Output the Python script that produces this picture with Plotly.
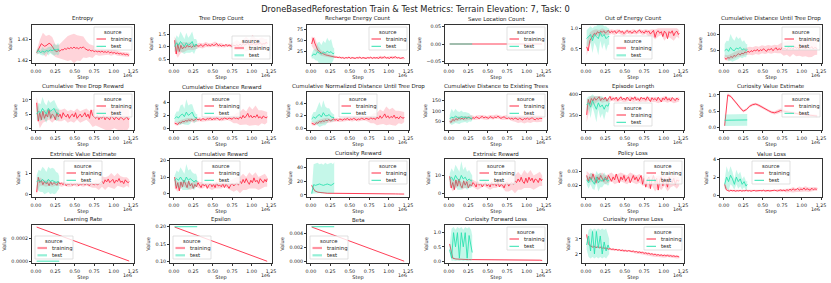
import plotly.graph_objects as go

# ---------------- data ----------------
TRAIN_STEPS = [10000, 50000, 90000, 130000, 170000, 210000, 250000, 290000, 330000, 370000,
               410000, 450000, 490000, 530000, 570000, 610000, 650000, 690000, 730000, 770000,
               810000, 850000, 890000, 930000, 970000, 1010000, 1050000, 1090000, 1130000,
               1170000, 1200000]
TRAIN_STEPS_FINE = [10000, 30000, 50000, 70000, 90000, 110000, 130000, 150000, 170000, 190000,
                    210000, 230000, 250000, 270000, 290000, 310000, 330000, 350000, 370000, 390000,
                    410000, 430000, 450000, 470000, 490000, 510000, 530000, 550000, 570000, 590000,
                    610000, 630000, 650000, 670000, 690000, 710000, 730000, 750000, 770000, 790000,
                    810000, 830000, 850000, 870000, 890000, 910000, 930000, 950000, 970000, 990000,
                    1010000, 1030000, 1050000, 1070000, 1090000, 1110000, 1130000, 1150000, 1170000,
                    1190000, 1200000]
TEST_STEPS = [10000, 35000, 60000, 85000, 110000, 135000, 160000, 185000, 210000, 235000,
              260000, 285000, 300000]
TRAIN_ENDS = [10000, 1200000]
TEST_ENDS = [10000, 300000]

X_TICKS = [0, 250000, 500000, 750000, 1000000, 1250000]
X_TICK_TEXT = ["0.00", "0.25", "0.50", "0.75", "1.00", "1.25"]

# ---- Entropy
entropy_line = [1.4235, 1.4250, 1.4268, 1.4278, 1.4272, 1.4266, 1.4268, 1.4275, 1.4280, 1.4276,
                1.4265, 1.4255, 1.4243, 1.4240, 1.4246, 1.4242, 1.4250, 1.4248, 1.4255, 1.4251,
                1.4258, 1.4254, 1.4260, 1.4255, 1.4262, 1.4256, 1.4259, 1.4253, 1.4261, 1.4257,
                1.4263, 1.4255, 1.4250, 1.4246, 1.4249, 1.4243, 1.4246, 1.4240, 1.4244, 1.4239,
                1.4242, 1.4238, 1.4243, 1.4237, 1.4240, 1.4236, 1.4241, 1.4234, 1.4238, 1.4233,
                1.4236, 1.4231, 1.4234, 1.4229, 1.4232, 1.4227, 1.4230, 1.4225, 1.4228, 1.4223, 1.4225]
entropy_train = [1.4235, 1.4265, 1.4280, 1.4265, 1.4280, 1.4270, 1.4245, 1.4240, 1.4245, 1.4250, 1.4255, 1.4260, 1.4255, 1.4258, 1.4255, 1.4262, 1.4250, 1.4245, 1.4240, 1.4245, 1.4240, 1.4242, 1.4238, 1.4240, 1.4235, 1.4238, 1.4232, 1.4230, 1.4228, 1.4226, 1.4225]
entropy_train_sd = [0.0010, 0.0030, 0.0050, 0.0050, 0.0040, 0.0040, 0.0030, 0.0030, 0.0040, 0.0050, 0.0060, 0.0060, 0.0070, 0.0060, 0.0060, 0.0050, 0.0040, 0.0030, 0.0030, 0.0020, 0.0020, 0.0020, 0.0015, 0.0015, 0.0015, 0.0012, 0.0012, 0.0010, 0.0010, 0.0010, 0.0010]
entropy_test = [1.4238, 1.4245, 1.4235, 1.4242, 1.4238, 1.4245, 1.4242, 1.4248, 1.4245, 1.4250, 1.4248, 1.4252, 1.4250]
entropy_test_sd = [0.0010, 0.0015, 0.0010, 0.0020, 0.0015, 0.0010, 0.0020, 0.0015, 0.0020, 0.0030, 0.0020, 0.0030, 0.0020]

# ---- Tree Drop Count
tree_line = [1.25, 0.70, 1.10, 0.80, 1.05, 0.90, 1.00, 0.95, 1.05, 0.98,
             1.02, 0.96, 1.04, 0.99, 1.06, 1.01, 1.03, 1.08, 1.00, 1.05,
             1.10, 1.03, 1.07, 1.02, 1.09, 1.04, 1.06, 1.12, 1.03, 1.07,
             1.01, 1.05, 1.03, 1.08, 1.02, 1.06, 1.04, 1.00, 1.05, 1.03,
             1.07, 1.02, 1.10, 1.04, 1.12, 1.06, 1.09, 1.15, 1.05, 1.10,
             1.08, 1.14, 1.06, 1.11, 1.09, 1.16, 1.08, 1.12, 1.10, 1.18, 1.12]
tree_train = [1.10, 0.85, 0.95, 0.98, 1.00, 1.02, 0.98, 1.00, 1.05, 1.02, 1.08, 1.05, 1.06, 1.10, 1.04, 1.06, 1.02, 1.05, 1.03, 1.04, 1.06, 1.02, 1.08, 1.10, 1.06, 1.12, 1.08, 1.10, 1.12, 1.10, 1.15]
tree_train_sd = [0.30, 0.30, 0.20, 0.20, 0.15, 0.15, 0.12, 0.10, 0.10, 0.10, 0.10, 0.08, 0.08, 0.10, 0.08, 0.08, 0.06, 0.06, 0.06, 0.15, 0.20, 0.15, 0.20, 0.30, 0.20, 0.35, 0.25, 0.20, 0.25, 0.20, 0.15]
tree_test = [1.00, 1.15, 1.05, 1.20, 1.10, 1.00, 1.15, 1.05, 1.10, 1.20, 1.00, 1.10, 1.05]
tree_test_sd = [0.20, 0.30, 0.30, 0.40, 0.35, 0.30, 0.40, 0.30, 0.35, 0.40, 0.30, 0.20, 0.15]

# ---- Recharge Energy Count
recharge_line = [42, 55, 44, 35, 28, 26, 22, 21, 19, 18,
                 17, 16, 15, 15, 14, 13, 13, 12, 13, 11,
                 12, 10, 12, 11, 13, 10, 12, 11, 10, 12,
                 11, 13, 10, 12, 11, 10, 12, 11, 13, 10,
                 12, 11, 12, 10, 13, 11, 12, 14, 11, 12,
                 10, 13, 11, 12, 14, 11, 12, 10, 11, 12, 10]
recharge_train = [48, 42, 30, 22, 20, 17, 15, 14, 13, 12, 12, 11, 12, 11, 11, 12, 11, 11, 12, 11, 12, 11, 13, 12, 11, 12, 13, 11, 12, 11, 10]
recharge_train_sd = [10, 15, 8, 6, 5, 4, 3, 3, 2, 2, 2, 2, 2, 2, 2, 2, 2, 2, 2, 2, 2, 2, 3, 3, 2, 3, 3, 2, 2, 2, 2]
recharge_test = [15, 20, 18, 25, 22, 20, 24, 22, 26, 23, 25, 20, 22]
recharge_test_sd = [5, 10, 12, 20, 25, 20, 25, 22, 30, 25, 28, 15, 10]

# ---- Save Location Count
save_train = [0.0, 0.0]
save_train_sd = [0.0, 0.0]
save_test = [0.0, 0.0]
save_test_sd = [0.0, 0.0]

# ---- Out of Energy Count
ooe_line = [0.55, 0.45, 0.70, 0.78, 0.82, 0.88, 0.85, 0.92, 0.88, 0.93,
            0.90, 0.94, 0.88, 0.92, 0.95, 0.89, 0.93, 0.90, 0.94, 0.88,
            0.92, 0.95, 0.90, 0.93, 0.87, 0.92, 0.95, 0.90, 0.93, 0.88,
            0.92, 0.94, 0.89, 0.93, 0.96, 0.90, 0.92, 0.88, 0.94, 0.91,
            0.93, 0.86, 0.92, 0.95, 0.78, 0.91, 0.94, 0.88, 0.92, 0.80,
            0.93, 0.89, 0.75, 0.92, 0.88, 0.94, 0.82, 0.90, 0.93, 0.85, 0.88]
ooe_train = [0.50, 0.75, 0.85, 0.90, 0.88, 0.92, 0.90, 0.90, 0.92, 0.90, 0.93, 0.90, 0.88, 0.92, 0.90, 0.92, 0.90, 0.93, 0.90, 0.92, 0.88, 0.90, 0.85, 0.90, 0.92, 0.85, 0.90, 0.88, 0.85, 0.90, 0.85]
ooe_train_sd = [0.15, 0.15, 0.10, 0.08, 0.08, 0.08, 0.06, 0.06, 0.06, 0.06, 0.05, 0.05, 0.06, 0.05, 0.05, 0.06, 0.05, 0.05, 0.06, 0.06, 0.08, 0.08, 0.12, 0.10, 0.08, 0.15, 0.10, 0.12, 0.15, 0.10, 0.10]
ooe_test = [0.75, 0.80, 0.85, 0.70, 0.85, 0.80, 0.75, 0.90, 0.80, 0.85, 0.75, 0.80, 0.80]
ooe_test_sd = [0.20, 0.20, 0.20, 0.30, 0.20, 0.25, 0.40, 0.20, 0.30, 0.20, 0.30, 0.20, 0.20]

# ---- Cumulative Distance Until Tree Drop
cdutd_line = [28, 24, 30, 27, 33, 29, 36, 33, 38, 41,
              37, 43, 40, 46, 44, 48, 45, 50, 47, 52,
              49, 54, 48, 53, 50, 56, 51, 48, 55, 52,
              57, 50, 54, 59, 52, 56, 53, 60, 55, 58,
              52, 61, 56, 59, 54, 63, 57, 60, 53, 65,
              58, 61, 55, 64, 59, 57, 62, 55, 60, 58, 56]
cdutd_train = [30, 28, 32, 36, 40, 42, 45, 47, 50, 48, 52, 50, 54, 52, 55, 53, 56, 54, 57, 55, 58, 56, 60, 58, 55, 62, 58, 60, 56, 62, 58]
cdutd_train_sd = [8, 8, 8, 10, 10, 10, 10, 10, 12, 12, 12, 12, 12, 12, 12, 12, 12, 12, 15, 20, 20, 25, 20, 25, 20, 30, 25, 30, 25, 25, 20]
cdutd_test = [50, 55, 48, 60, 52, 50, 58, 55, 60, 52, 56, 50, 54]
cdutd_test_sd = [20, 25, 30, 40, 35, 30, 35, 30, 30, 25, 25, 20, 15]

# ---- Cumulative Tree Drop Reward
ctdr_line = [9.0, 2.5, 5.5, 3.0, 6.0, 3.5, 5.0, 4.0, 6.5, 3.5,
             5.0, 4.5, 3.0, 5.5, 4.0, 5.0, 3.5, 5.5, 4.5, 4.0,
             5.0, 3.5, 4.5, 5.0, 4.0, 5.5, 3.5, 4.5, 5.0, 4.0,
             4.5, 5.5, 4.0, 5.0, 3.5, 6.5, 4.5, 4.0, 3.5, 4.5,
             3.0, 4.0, 3.5, 4.5, 3.0, 4.0, 3.5, 3.0, 4.5, 3.5,
             3.0, 4.0, 3.5, 3.0, 4.0, 3.5, 3.0, 3.5, 4.0, 3.0, 3.5]
ctdr_train = [8.0, 3.0, 4.0, 4.5, 5.0, 4.0, 5.0, 4.5, 4.5, 5.0, 4.0, 4.5, 4.0, 5.0, 4.0, 4.5, 5.0, 4.0, 3.5, 4.0, 3.5, 4.0, 3.5, 3.0, 3.5, 4.0, 3.5, 3.0, 3.5, 3.0, 3.5]
ctdr_train_sd = [3, 3, 2, 2, 2, 2, 2, 2, 2, 2, 2, 2, 2, 2, 2, 2, 2, 2, 3, 3, 3, 4, 4, 4, 4, 4, 4, 4, 4, 4, 3]
ctdr_test = [5.0, 6.0, 5.5, 7.0, 6.0, 5.0, 7.0, 6.0, 6.5, 7.0, 5.5, 5.0, 5.0]
ctdr_test_sd = [2, 3, 3, 4, 3, 3, 3, 3, 3, 3, 3, 2, 2]

# ---- Cumulative Distance Reward
cdr_line = [0.8, 0.7, 0.6, 0.9, 0.8, 1.1, 1.0, 1.2, 1.1, 1.3,
            1.2, 1.4, 1.2, 1.3, 1.5, 1.3, 1.4, 1.2, 1.5, 1.4,
            1.3, 1.5, 1.4, 1.6, 1.3, 1.5, 1.4, 1.6, 1.5, 1.3,
            1.5, 1.4, 1.6, 1.5, 1.4, 1.6, 1.5, 1.4, 1.7, 1.5,
            1.6, 1.4, 1.8, 1.5, 2.0, 1.6, 1.9, 2.3, 1.7, 2.0,
            1.6, 1.9, 1.7, 2.1, 1.6, 1.8, 1.5, 1.9, 1.7, 1.6, 1.8]
cdr_train = [0.8, 0.7, 1.0, 1.1, 1.2, 1.3, 1.2, 1.3, 1.4, 1.3, 1.4, 1.5, 1.4, 1.5, 1.5, 1.4, 1.5, 1.6, 1.5, 1.4, 1.6, 1.5, 1.8, 1.6, 1.9, 1.7, 2.0, 1.6, 1.8, 1.6, 1.7]
cdr_train_sd = [0.3, 0.3, 0.3, 0.4, 0.4, 0.3, 0.3, 0.3, 0.3, 0.3, 0.3, 0.3, 0.3, 0.3, 0.3, 0.3, 0.3, 0.3, 0.4, 0.6, 0.8, 1.0, 1.2, 1.0, 1.5, 1.2, 1.5, 1.2, 1.0, 1.0, 0.8]
cdr_test = [1.5, 1.8, 1.6, 2.0, 2.2, 1.8, 2.5, 2.0, 2.2, 2.5, 1.8, 1.6, 1.7]
cdr_test_sd = [0.5, 0.8, 1.0, 1.5, 1.5, 1.2, 2.0, 1.5, 1.5, 1.2, 1.0, 0.6, 0.5]

# ---- Cumulative Normalized Distance Until Tree Drop
cnd_line = [0.08, 0.07, 0.06, 0.09, 0.08, 0.11, 0.10, 0.12, 0.11, 0.13,
            0.12, 0.14, 0.12, 0.13, 0.15, 0.13, 0.14, 0.12, 0.15, 0.14,
            0.13, 0.15, 0.14, 0.16, 0.13, 0.15, 0.14, 0.16, 0.15, 0.13,
            0.15, 0.14, 0.16, 0.15, 0.14, 0.16, 0.15, 0.14, 0.17, 0.15,
            0.16, 0.14, 0.18, 0.15, 0.20, 0.16, 0.19, 0.23, 0.17, 0.20,
            0.16, 0.19, 0.17, 0.21, 0.16, 0.18, 0.15, 0.19, 0.17, 0.16, 0.18]
cnd_train = [0.08, 0.07, 0.10, 0.11, 0.12, 0.13, 0.12, 0.13, 0.14, 0.13, 0.14, 0.14, 0.15, 0.14, 0.15, 0.14, 0.15, 0.16, 0.15, 0.14, 0.16, 0.15, 0.18, 0.17, 0.20, 0.18, 0.19, 0.16, 0.18, 0.17, 0.18]
cnd_train_sd = [0.03, 0.03, 0.03, 0.04, 0.04, 0.04, 0.03, 0.03, 0.03, 0.03, 0.03, 0.03, 0.03, 0.03, 0.03, 0.03, 0.03, 0.03, 0.04, 0.06, 0.08, 0.10, 0.12, 0.10, 0.15, 0.12, 0.14, 0.12, 0.10, 0.10, 0.08]
cnd_test = [0.15, 0.18, 0.16, 0.20, 0.22, 0.18, 0.25, 0.20, 0.20, 0.22, 0.18, 0.17, 0.17]
cnd_test_sd = [0.05, 0.08, 0.10, 0.15, 0.20, 0.15, 0.20, 0.15, 0.12, 0.10, 0.08, 0.06, 0.05]

# ---- Cumulative Distance to Existing Trees
cdet_line = [48, 44, 58, 52, 62, 56, 66, 60, 64, 58,
             68, 62, 70, 64, 60, 67, 63, 71, 66, 62,
             69, 73, 65, 70, 67, 63, 72, 68, 64, 70,
             66, 74, 69, 63, 68, 71, 65, 62, 67, 60,
             64, 58, 66, 61, 57, 64, 60, 55, 63, 59,
             65, 58, 62, 67, 60, 56, 63, 59, 64, 61, 62]
cdet_train = [45, 55, 60, 62, 65, 62, 65, 68, 65, 68, 70, 68, 65, 70, 68, 72, 70, 65, 68, 70, 65, 62, 60, 62, 58, 62, 60, 64, 62, 60, 62]
cdet_train_sd = [10, 12, 12, 10, 10, 10, 10, 10, 10, 10, 10, 10, 10, 10, 10, 10, 10, 10, 10, 12, 15, 15, 20, 18, 20, 18, 20, 18, 18, 15, 15]
cdet_test = [60, 70, 65, 75, 68, 65, 72, 68, 70, 65, 68, 62, 65]
cdet_test_sd = [20, 40, 30, 35, 30, 30, 30, 25, 25, 25, 20, 15, 12]

# ---- Episode Length
ep_line = [352, 388, 376, 390, 384, 392, 386, 389, 394, 385,
           391, 387, 393, 384, 390, 395, 386, 391, 388, 393,
           385, 390, 394, 387, 391, 386, 393, 389, 384, 392,
           388, 394, 386, 390, 385, 393, 389, 391, 386, 394,
           388, 383, 392, 387, 390, 385, 393, 388, 382, 391,
           387, 394, 386, 390, 384, 392, 388, 385, 391, 387, 389]
ep_train = [355, 380, 385, 388, 390, 386, 388, 385, 390, 388, 387, 389, 386, 388, 390, 387, 389, 386, 388, 387, 389, 386, 388, 385, 387, 389, 386, 388, 385, 387, 388]
ep_train_sd = [20, 15, 10, 8, 6, 6, 5, 5, 5, 5, 5, 5, 5, 5, 5, 5, 5, 5, 5, 5, 5, 5, 6, 6, 5, 6, 6, 5, 6, 5, 5]
ep_test = [375, 380, 370, 385, 375, 365, 380, 370, 375, 365, 375, 372, 380]
ep_test_sd = [15, 15, 25, 15, 20, 30, 15, 25, 20, 25, 15, 15, 12]

# ---- Curiosity Value Estimate
cve_train = [0.05, 1.00, 0.95, 0.85, 0.72, 0.60, 0.50, 0.55, 0.65, 0.70, 0.72, 0.68, 0.62, 0.58, 0.52, 0.47, 0.45, 0.48, 0.52, 0.50, 0.48, 0.45, 0.43, 0.42, 0.41, 0.40, 0.39, 0.38, 0.37, 0.36, 0.35]
cve_train_sd = [0.02, 0.05, 0.04, 0.04, 0.04, 0.04, 0.04, 0.04, 0.04, 0.04, 0.04, 0.04, 0.04, 0.04, 0.04, 0.04, 0.05, 0.06, 0.06, 0.05, 0.05, 0.04, 0.04, 0.04, 0.04, 0.04, 0.04, 0.04, 0.04, 0.04, 0.04]
cve_test = [0.22, 0.23]
cve_test_sd = [0.18, 0.18]

# ---- Extrinsic Value Estimate
evs_line = [0.10, 0.80, 0.55, 0.65, 0.45, 0.60, 0.50, 0.55, 0.40, 0.60,
            0.45, 0.55, 0.50, 0.42, 0.58, 0.48, 0.52, 0.45, 0.55, 0.40,
            0.50, 0.46, 0.54, 0.42, 0.50, 0.47, 0.53, 0.40, 0.48, 0.45,
            0.52, 0.43, 0.50, 0.46, 0.41, 0.52, 0.47, 0.44, 0.50, 0.45,
            0.48, 0.55, 0.62, 0.50, 0.68, 0.58, 0.72, 0.55, 0.64, 0.70,
            0.52, 0.66, 0.60, 0.74, 0.56, 0.62, 0.50, 0.68, 0.58, 0.55, 0.60]
evs_train = [0.20, 0.60, 0.55, 0.50, 0.55, 0.45, 0.50, 0.50, 0.45, 0.50, 0.45, 0.45, 0.50, 0.45, 0.50, 0.45, 0.50, 0.45, 0.45, 0.50, 0.45, 0.60, 0.50, 0.60, 0.65, 0.55, 0.70, 0.60, 0.55, 0.60, 0.50]
evs_train_sd = [0.20, 0.20, 0.15, 0.15, 0.15, 0.10, 0.10, 0.10, 0.10, 0.10, 0.10, 0.10, 0.10, 0.10, 0.10, 0.10, 0.10, 0.10, 0.15, 0.20, 0.25, 0.25, 0.30, 0.25, 0.35, 0.30, 0.30, 0.25, 0.25, 0.20, 0.20]
evs_test = [0.60, 0.65, 0.60, 0.70, 0.60, 0.55, 0.70, 0.60, 0.65, 0.60, 0.55, 0.60, 0.55]
evs_test_sd = [0.30, 0.50, 0.50, 0.60, 0.60, 0.50, 0.60, 0.60, 0.60, 0.60, 0.50, 0.40, 0.30]

# ---- Cumulative Reward
cr_line = [10.0, 3.0, 6.5, 1.5, 7.0, 4.0, 8.0, 5.0, 3.5, 7.5,
           4.5, 6.0, 3.0, 5.5, 4.0, 6.5, 5.0, 3.5, 6.0, 4.5,
           5.5, 3.0, 5.0, 6.0, 4.0, 5.5, 3.5, 6.5, 4.5, 5.0,
           4.0, 6.0, 3.5, 5.5, 4.5, 3.0, 5.0, 6.0, 4.5, 5.5,
           6.5, 5.0, 7.5, 6.0, 8.5, 6.5, 9.0, 7.0, 5.5, 8.0,
           6.5, 9.5, 7.0, 8.0, 6.0, 9.0, 7.5, 6.5, 8.5, 7.0, 9.0]
cr_train = [6, 4, 5, 6, 5, 4, 5, 6, 5, 5, 6, 5, 4, 5, 5, 5, 6, 5, 5, 5, 6, 5, 7, 6, 8, 7, 8, 6, 7, 8, 7]
cr_train_sd = [3, 3, 2, 2, 2, 2, 2, 2, 2, 2, 2, 2, 2, 2, 2, 2, 2, 2, 3, 4, 4, 5, 5, 4, 5, 4, 5, 4, 4, 4, 3]
cr_test = [8, 9, 8, 10, 8, 7, 10, 8, 9, 8, 7, 8, 7]
cr_test_sd = [3, 5, 5, 6, 6, 5, 8, 6, 6, 5, 5, 4, 3]

# ---- Curiosity Reward
cur_train = [14, 6, 4, 3, 3, 2.5, 2.5, 2.5, 2.5, 2.5, 2.5, 2.5, 2.5, 2.2, 2.2, 2.2, 2.2, 2.0, 2.0, 2.0, 2.0, 1.8, 1.8, 1.8, 1.6, 1.6, 1.5, 1.5, 1.4, 1.4, 1.3]
cur_train_sd = [2.0, 1.0, 0.5, 0.5, 0.5, 0.4, 0.4, 0.4, 0.4, 0.4, 0.4, 0.4, 0.4, 0.3, 0.3, 0.3, 0.3, 0.3, 0.3, 0.3, 0.3, 0.3, 0.3, 0.3, 0.3, 0.3, 0.3, 0.3, 0.3, 0.3, 0.3]
cur_test = [2, 15, 14, 15, 16, 15, 14, 15, 16, 15, 14, 16, 17]
cur_test_lo = [1, 2, 2, 2, 3, 2, 2, 3, 2, 2, 3, 2, 3]
cur_test_hi = [3, 45, 46, 47, 45, 46, 44, 47, 45, 46, 47, 45, 48]

# ---- Extrinsic Reward
er_line = [9.5, 3.0, 6.0, 2.0, 7.5, 4.0, 8.0, 4.5, 3.0, 7.0,
           4.5, 6.5, 3.0, 5.0, 4.0, 6.0, 5.0, 3.5, 6.5, 4.5,
           5.5, 3.5, 5.0, 6.0, 4.0, 5.0, 3.5, 6.0, 4.5, 5.5,
           4.0, 6.5, 3.5, 5.0, 4.5, 3.0, 5.5, 6.0, 4.0, 5.5,
           6.0, 5.0, 7.0, 6.0, 8.0, 6.5, 9.0, 6.5, 5.5, 8.5,
           6.0, 9.0, 7.0, 8.5, 6.0, 8.0, 7.5, 6.0, 8.5, 7.0, 8.0]
er_train = [7, 4, 5, 6, 4, 5, 5, 6, 5, 4, 5, 6, 5, 4, 5, 5, 6, 5, 4, 5, 6, 5, 7, 6, 8, 7, 8, 6, 7, 8, 7]
er_train_sd = [3, 3, 2, 2, 2, 2, 2, 2, 2, 2, 2, 2, 2, 2, 2, 2, 2, 2, 3, 4, 4, 5, 5, 4, 5, 4, 5, 4, 4, 4, 3]
er_test = [8, 9, 7, 10, 8, 7, 10, 8, 9, 7, 8, 7, 7]
er_test_sd = [3, 5, 5, 6, 6, 5, 8, 5, 6, 5, 5, 4, 3]

# ---- Policy Loss
pl_line = [0.027, 0.023, 0.026, 0.024, 0.028, 0.025, 0.022, 0.026, 0.024, 0.027,
           0.025, 0.023, 0.026, 0.024, 0.027, 0.025, 0.023, 0.026, 0.024, 0.028,
           0.025, 0.022, 0.026, 0.024, 0.027, 0.023, 0.025, 0.026, 0.022, 0.025,
           0.027, 0.024, 0.026, 0.023, 0.025, 0.027, 0.021, 0.025, 0.019, 0.024,
           0.026, 0.018, 0.024, 0.027, 0.022, 0.025, 0.017, 0.024, 0.026, 0.020,
           0.025, 0.023, 0.019, 0.026, 0.024, 0.022, 0.025, 0.021, 0.024, 0.023, 0.024]
pl_train = [0.027, 0.025, 0.026, 0.024, 0.025, 0.026, 0.024, 0.025, 0.026, 0.024, 0.025, 0.026, 0.025, 0.024, 0.026, 0.025, 0.024, 0.025, 0.023, 0.024, 0.022, 0.024, 0.021, 0.023, 0.022, 0.024, 0.021, 0.023, 0.024, 0.022, 0.023]
pl_train_sd = [0.003, 0.003, 0.003, 0.003, 0.003, 0.003, 0.003, 0.003, 0.003, 0.003, 0.003, 0.003, 0.003, 0.003, 0.003, 0.003, 0.003, 0.003, 0.003, 0.004, 0.004, 0.004, 0.005, 0.004, 0.005, 0.004, 0.005, 0.004, 0.004, 0.004, 0.003]
pl_test = [0.024, 0.022, 0.025, 0.023, 0.021, 0.026, 0.022, 0.024, 0.023, 0.025, 0.024, 0.023, 0.024]
pl_test_sd = [0.003, 0.004, 0.004, 0.005, 0.004, 0.004, 0.006, 0.005, 0.004, 0.004, 0.003, 0.003, 0.003]

# ---- Value Loss
vl_line = [1.20, 0.60, 0.50, 0.45, 0.55, 0.48, 0.52, 0.44, 0.50, 0.47,
           0.53, 0.45, 0.50, 0.48, 0.55, 0.46, 0.51, 0.44, 0.50, 0.53,
           0.47, 0.50, 0.45, 0.52, 0.48, 0.55, 0.46, 0.50, 0.53, 0.47,
           0.51, 0.48, 0.55, 0.50, 0.46, 0.52, 0.58, 0.50, 0.55, 0.48,
           0.60, 0.53, 0.65, 0.55, 0.70, 0.58, 0.62, 0.75, 0.55, 0.68,
           0.60, 0.80, 0.58, 0.72, 0.62, 0.55, 0.78, 0.60, 0.70, 0.65, 0.72]
vl_train = [1.10, 0.55, 0.50, 0.50, 0.45, 0.50, 0.45, 0.50, 0.50, 0.45, 0.50, 0.45, 0.50, 0.50, 0.45, 0.50, 0.50, 0.55, 0.50, 0.55, 0.50, 0.55, 0.60, 0.55, 0.65, 0.60, 0.70, 0.60, 0.65, 0.70, 0.65]
vl_train_sd = [0.30, 0.10, 0.10, 0.10, 0.10, 0.10, 0.10, 0.10, 0.10, 0.10, 0.10, 0.10, 0.10, 0.10, 0.10, 0.10, 0.10, 0.10, 0.15, 0.15, 0.20, 0.20, 0.30, 0.20, 0.30, 0.25, 0.30, 0.25, 0.25, 0.20, 0.20]
vl_test = [1.2, 2.0, 1.5, 2.2, 1.8, 1.2, 2.0, 1.5, 1.8, 1.2, 1.5, 1.0, 1.2]
vl_test_sd = [0.5, 1.2, 1.0, 1.0, 0.8, 0.6, 0.8, 0.8, 0.8, 0.6, 0.6, 0.5, 0.4]

# ---- schedules
lr_train = [0.000298, 0.000001]
lr_test = [0.0, 0.0]
eps_train = [0.199, 0.100]
eps_test = [0.200, 0.200]
beta_train = [0.00496, 0.00001]
beta_test = [0.005, 0.005]
zero_sd = [0.0, 0.0]

# ---- Curiosity Forward Loss
cfl_train = [0.60, 0.10, 0.07, 0.06, 0.06, 0.05, 0.05, 0.05, 0.05, 0.05, 0.05, 0.05, 0.05, 0.05, 0.05, 0.05, 0.05, 0.05, 0.04, 0.04, 0.04, 0.04, 0.04, 0.04, 0.04, 0.03, 0.03, 0.03, 0.03, 0.03, 0.02]
cfl_train_sd = [0.05, 0.03, 0.02, 0.01, 0.01, 0.01, 0.01, 0.01, 0.01, 0.01, 0.01, 0.01, 0.01, 0.01, 0.01, 0.01, 0.01, 0.01, 0.01, 0.01, 0.01, 0.01, 0.01, 0.01, 0.01, 0.01, 0.01, 0.01, 0.01, 0.01, 0.01]
cfl_test = [0.40, 0.10, 1.00, 0.50, 1.00, 0.10, 1.00, 0.50, 1.00, 0.10, 0.90, 0.50, 0.30]
cfl_test_lo = [0.30, 0.00, 0.02, 0.00, 0.02, 0.00, 0.02, 0.00, 0.02, 0.00, 0.02, 0.00, 0.05]
cfl_test_hi = [0.55, 1.15, 1.20, 1.10, 1.20, 1.15, 1.20, 1.10, 1.20, 1.15, 1.20, 1.10, 0.90]

# ---- Curiosity Inverse Loss
cil_line = [3.30, 2.70, 2.55, 2.50, 2.45, 2.50, 2.42, 2.47, 2.40, 2.44,
            2.38, 2.42, 2.35, 2.38, 2.32, 2.36, 2.30, 2.33, 2.28, 2.31,
            2.25, 2.29, 2.22, 2.26, 2.20, 2.24, 2.18, 2.23, 2.19, 2.16,
            2.20, 2.13, 2.17, 2.10, 2.14, 2.08, 2.11, 2.04, 2.08, 2.01,
            2.05, 1.98, 2.02, 1.95, 1.99, 1.92, 1.96, 1.90, 1.94, 1.88,
            1.93, 1.87, 1.91, 1.85, 1.89, 1.84, 1.88, 1.83, 1.86, 1.82, 1.80]
cil_train = [3.20, 2.60, 2.50, 2.50, 2.45, 2.45, 2.40, 2.35, 2.30, 2.30, 2.25, 2.25, 2.20, 2.20, 2.20, 2.15, 2.10, 2.10, 2.05, 2.00, 2.00, 1.95, 1.90, 1.90, 1.90, 1.85, 1.90, 1.85, 1.85, 1.80, 1.80]
cil_train_sd = [0.10, 0.08, 0.06, 0.06, 0.06, 0.06, 0.06, 0.06, 0.06, 0.06, 0.06, 0.06, 0.06, 0.06, 0.06, 0.06, 0.08, 0.10, 0.10, 0.10, 0.10, 0.10, 0.10, 0.10, 0.10, 0.10, 0.10, 0.10, 0.10, 0.10, 0.08]
cil_test = [2.6, 3.2, 2.2, 3.5, 2.0, 3.5, 2.4, 3.2, 2.0, 2.8, 2.2, 2.6, 2.4]
cil_test_lo = [2.3, 1.8, 1.7, 1.8, 1.7, 1.8, 1.7, 1.8, 1.7, 1.8, 1.7, 1.9, 2.0]
cil_test_hi = [2.9, 3.6, 3.7, 3.6, 3.7, 3.6, 3.7, 3.6, 3.7, 3.6, 3.7, 3.3, 3.0]

PANELS = [
    dict(title="Entropy", tl=entropy_line, tr=entropy_train, trsd=entropy_train_sd, te=entropy_test, tesd=entropy_test_sd,
         yr=[1.4186, 1.4367], yt=[1.42, 1.43], ytt=["1.42", "1.43"], leg="ur"),
    dict(title="Tree Drop Count", tl=tree_line, tr=tree_train, trsd=tree_train_sd, te=tree_test, tesd=tree_test_sd,
         yr=[0.34, 1.86], yt=[0.5, 1.0, 1.5], ytt=["0.5", "1.0", "1.5"], leg="lr", pale=True),
    dict(title="Recharge Energy Count", tl=recharge_line, tr=recharge_train, trsd=recharge_train_sd, te=recharge_test, tesd=recharge_test_sd,
         yr=[0, 84], yt=[25, 50, 75], ytt=["25", "50", "75"], leg="ur"),
    dict(title="Save Location Count", tr=save_train, trsd=save_train_sd, te=save_test, tesd=save_test_sd,
         trx=TRAIN_ENDS, tex=TEST_ENDS,
         yr=[-0.055, 0.055], yt=[-0.05, 0.0, 0.05], ytt=["\u22120.05", "0.00", "0.05"], leg="ur"),
    dict(title="Out of Energy Count", tl=ooe_line, tr=ooe_train, trsd=ooe_train_sd, te=ooe_test, tesd=ooe_test_sd,
         yr=[0.16, 1.08], yt=[0.5, 1.0], ytt=["0.5", "1.0"], leg="lc", pale=True),
    dict(title="Cumulative Distance Until Tree Drop", tl=cdutd_line, tr=cdutd_train, trsd=cdutd_train_sd, te=cdutd_test, tesd=cdutd_test_sd,
         yr=[13, 127], yt=[50, 100], ytt=["50", "100"], leg="ur"),
    dict(title="Cumulative Tree Drop Reward", tl=ctdr_line, tr=ctdr_train, trsd=ctdr_train_sd, te=ctdr_test, tesd=ctdr_test_sd,
         yr=[-0.6, 12.8], yt=[0, 5, 10], ytt=["0", "5", "10"], leg="ur"),
    dict(title="Cumulative Distance Reward", tl=cdr_line, tr=cdr_train, trsd=cdr_train_sd, te=cdr_test, tesd=cdr_test_sd,
         yr=[-0.26, 5.6], yt=[0, 2, 4], ytt=["0", "2", "4"], leg="uc"),
    dict(title="Cumulative Normalized Distance Until Tree Drop", tl=cnd_line, tr=cnd_train, trsd=cnd_train_sd, te=cnd_test, tesd=cnd_test_sd,
         yr=[-0.027, 0.58], yt=[0.0, 0.2, 0.4], ytt=["0.0", "0.2", "0.4"], leg="uc"),
    dict(title="Cumulative Distance to Existing Trees", tl=cdet_line, tr=cdet_train, trsd=cdet_train_sd, te=cdet_test, tesd=cdet_test_sd,
         yr=[6, 193], yt=[50, 100, 150], ytt=["50", "100", "150"], leg="ur"),
    dict(title="Episode Length", tl=ep_line, tr=ep_train, trsd=ep_train_sd, te=ep_test, tesd=ep_test_sd,
         yr=[317, 405], yt=[350, 400], ytt=["350", "400"], leg="lc"),
    dict(title="Curiosity Value Estimate", tr=cve_train, trsd=cve_train_sd, te=cve_test, tesd=cve_test_sd,
         tex=TEST_ENDS,
         yr=[-0.08, 1.09], yt=[0.0, 0.5, 1.0], ytt=["0.0", "0.5", "1.0"], leg="ur"),
    dict(title="Extrinsic Value Estimate", tl=evs_line, tr=evs_train, trsd=evs_train_sd, te=evs_test, tesd=evs_test_sd,
         yr=[-0.13, 1.66], yt=[0, 1], ytt=["0", "1"], leg="uc"),
    dict(title="Cumulative Reward", tl=cr_line, tr=cr_train, trsd=cr_train_sd, te=cr_test, tesd=cr_test_sd,
         yr=[-2.3, 21.1], yt=[0, 10, 20], ytt=["0", "10", "20"], leg="uc"),
    dict(title="Curiosity Reward", tr=cur_train, trsd=cur_train_sd, te=cur_test, telo=cur_test_lo, tehi=cur_test_hi,
         yr=[-3, 52.5], yt=[0, 20, 40], ytt=["0", "20", "40"], leg="ur"),
    dict(title="Extrinsic Reward", tl=er_line, tr=er_train, trsd=er_train_sd, te=er_test, tesd=er_test_sd,
         yr=[-2.1, 19.2], yt=[0, 10], ytt=["0", "10"], leg="uc"),
    dict(title="Policy Loss", tl=pl_line, tr=pl_train, trsd=pl_train_sd, te=pl_test, tesd=pl_test_sd,
         yr=[0.0123, 0.0382], yt=[0.02, 0.03], ytt=["0.02", "0.03"], leg="ur"),
    dict(title="Value Loss", tl=vl_line, tr=vl_train, trsd=vl_train_sd, te=vl_test, tesd=vl_test_sd,
         yr=[-0.2, 4.0], yt=[0, 2, 4], ytt=["0", "2", "4"], leg="uc"),
    dict(title="Learning Rate", tr=lr_train, trsd=zero_sd, te=lr_test, tesd=zero_sd,
         trx=TRAIN_ENDS, tex=TEST_ENDS,
         yr=[-0.000016, 0.000316], yt=[0.0, 0.0002], ytt=["0.0000", "0.0002"], leg="ll", pale=True),
    dict(title="Epsilon", tr=eps_train, trsd=zero_sd, te=eps_test, tesd=zero_sd,
         trx=TRAIN_ENDS, tex=TEST_ENDS,
         yr=[0.095, 0.205], yt=[0.10, 0.15, 0.20], ytt=["0.10", "0.15", "0.20"], leg="ll", pale=True),
    dict(title="Beta", tr=beta_train, trsd=zero_sd, te=beta_test, tesd=zero_sd,
         trx=TRAIN_ENDS, tex=TEST_ENDS,
         yr=[-0.00025, 0.00525], yt=[0.0, 0.002, 0.004], ytt=["0.000", "0.002", "0.004"], leg="ll", pale=True),
    dict(title="Curiosity Forward Loss", tr=cfl_train, trsd=cfl_train_sd, te=cfl_test, telo=cfl_test_lo, tehi=cfl_test_hi,
         yr=[-0.07, 1.27], yt=[0.0, 0.5, 1.0], ytt=["0.0", "0.5", "1.0"], leg="ur"),
    dict(title="Curiosity Inverse Loss", tl=cil_line, tr=cil_train, trsd=cil_train_sd, te=cil_test, telo=cil_test_lo, tehi=cil_test_hi,
         yr=[1.4, 3.93], yt=[2, 3], ytt=["2", "3"], leg="ur"),
]

SUPTITLE = "DroneBasedReforestation Train & Test Metrics: Terrain Elevation: 7, Task: 0"

# ---------------- style / layout ----------------
FIG_W, FIG_H = 831, 283
COL_LEFT = [32, 170, 307, 445, 582, 720]
ROW_TOP = [25, 92, 159, 225]
PW, PH = 102, 38
X_RANGE = [-50000, 1262000]

TRAIN_COLOR = "#ff2a45"
TEST_COLOR = "#2de2b0"
TRAIN_FILL = "rgba(255,42,69,0.2)"
TEST_FILL = "rgba(45,226,176,0.28)"
FONT = "DejaVu Sans"
TXT = "#222222"

fig = go.Figure()
layout_axes = {}
shapes = []
annotations = []


def band(x, lo, hi, color, xa, ya):
    n = min(len(x), len(lo), len(hi))
    xs = list(x)[:n]
    fig.add_trace(go.Scatter(x=xs + xs[::-1], y=list(hi)[:n] + list(lo)[:n][::-1],
                             fill="toself", fillcolor=color, line=dict(width=0),
                             mode="lines", hoverinfo="skip", showlegend=False,
                             xaxis=xa, yaxis=ya))


def line(x, y, color, xa, ya):
    n = min(len(x), len(y))
    fig.add_trace(go.Scatter(x=list(x)[:n], y=list(y)[:n], mode="lines",
                             line=dict(color=color, width=0.9),
                             showlegend=False, xaxis=xa, yaxis=ya))


for i, p in enumerate(PANELS):
    k = i + 1
    r, c = divmod(i, 6)
    xa = "x" if k == 1 else f"x{k}"
    ya = "y" if k == 1 else f"y{k}"
    x0 = COL_LEFT[c] / FIG_W
    x1 = (COL_LEFT[c] + PW) / FIG_W
    y1 = 1 - ROW_TOP[r] / FIG_H
    y0 = 1 - (ROW_TOP[r] + PH) / FIG_H

    trx = p.get("trx", TRAIN_STEPS)
    tex = p.get("tex", TEST_STEPS)

    # training
    if any(s > 0 for s in p["trsd"]):
        band(trx, [m - s for m, s in zip(p["tr"], p["trsd"])],
             [m + s for m, s in zip(p["tr"], p["trsd"])], TRAIN_FILL, xa, ya)
    if "tl" in p:
        line(TRAIN_STEPS_FINE, p["tl"], TRAIN_COLOR, xa, ya)
    else:
        line(trx, p["tr"], TRAIN_COLOR, xa, ya)
    # test
    if "telo" in p:
        band(tex, p["telo"], p["tehi"], TEST_FILL, xa, ya)
    elif any(s > 0 for s in p["tesd"]):
        band(tex, [m - s for m, s in zip(p["te"], p["tesd"])],
             [m + s for m, s in zip(p["te"], p["tesd"])], TEST_FILL, xa, ya)
    line(tex, p["te"], TEST_COLOR, xa, ya)

    axis_common = dict(showline=True, mirror=True, linecolor="#333333", linewidth=0.8,
                       ticks="outside", ticklen=2, tickwidth=0.6, tickcolor="#333333",
                       showgrid=False, zeroline=False, automargin=False,
                       tickfont=dict(family=FONT, size=4.8, color=TXT))
    layout_axes["xaxis" if k == 1 else f"xaxis{k}"] = dict(
        domain=[x0, x1], anchor=ya, range=X_RANGE, tickvals=X_TICKS, ticktext=X_TICK_TEXT,
        ticklabelstandoff=1,
        title=dict(text="Step", font=dict(family=FONT, size=5, color=TXT), standoff=2),
        **axis_common)
    layout_axes["yaxis" if k == 1 else f"yaxis{k}"] = dict(
        domain=[y0, y1], anchor=xa, range=p["yr"], tickvals=p["yt"], ticktext=p["ytt"],
        title=dict(text="Value", font=dict(family=FONT, size=5, color=TXT), standoff=4),
        **axis_common)

    xd = f"{xa} domain"
    yd = f"{ya} domain"
    # subplot title
    annotations.append(dict(text=p["title"], xref=xd, yref=yd, x=0.5, y=1, xanchor="center",
                            yanchor="bottom", yshift=0.5, showarrow=False,
                            font=dict(family=FONT, size=5.5, color=TXT)))
    # offset text
    annotations.append(dict(text="1e6", xref=xd, yref=yd, x=1, y=0, xanchor="right",
                            yanchor="middle", yshift=-12.5, showarrow=False,
                            font=dict(family=FONT, size=4.8, color=TXT)))

    # legend box (px within the panel)
    LW, LH = 38, 23
    pos = p["leg"]
    if pos[1] == "r":
        lx = PW - 2 - LW
    elif pos[1] == "c":
        lx = (PW - LW) / 2
    else:
        lx = 3
    if pos[0] == "u":
        ly = 2
    else:
        ly = PH - 4 - LH
    fx = lambda px: px / PW
    fy = lambda py: 1 - py / PH
    shapes.append(dict(type="rect", xref=xd, yref=yd, x0=fx(lx), x1=fx(lx + LW),
                       y0=fy(ly + LH), y1=fy(ly), fillcolor="rgba(255,255,255,0.8)",
                       line=dict(color="#d4d4d4", width=0.7), layer="above"))
    annotations.append(dict(text="source", xref=xd, yref=yd, x=fx(lx + LW / 2), y=fy(ly + 5),
                            xanchor="center", yanchor="middle", showarrow=False,
                            font=dict(family=FONT, size=5.3, color=TXT)))
    pale = p.get("pale", False)
    for j, (nm, col) in enumerate([("training", TRAIN_COLOR), ("test", TEST_COLOR)]):
        yy = ly + 12 + j * 7.3
        shapes.append(dict(type="line", xref=xd, yref=yd, x0=fx(lx + 2.5), x1=fx(lx + 12),
                           y0=fy(yy), y1=fy(yy), layer="above",
                           opacity=0.5 if pale else 1.0,
                           line=dict(color=col, width=2.2 if pale else 1.0)))
        annotations.append(dict(text=nm, xref=xd, yref=yd, x=fx(lx + 14.5), y=fy(yy),
                                xanchor="left", yanchor="middle", showarrow=False,
                                font=dict(family=FONT, size=5.3, color=TXT)))

fig.update_layout(
    width=FIG_W, height=FIG_H,
    margin=dict(l=0, r=0, t=0, b=0),
    paper_bgcolor="white", plot_bgcolor="white",
    showlegend=False,
    title=dict(text=SUPTITLE, x=0.5, xanchor="center", y=1 - 9 / FIG_H, yanchor="middle",
               font=dict(family=FONT, size=8.3, color=TXT)),
    shapes=shapes, annotations=annotations,
    **layout_axes,
)

fig.write_html("out.html", config={"displayModeBar": False},
               post_script="document.body.style.margin='0px';document.body.style.padding='0px';")
